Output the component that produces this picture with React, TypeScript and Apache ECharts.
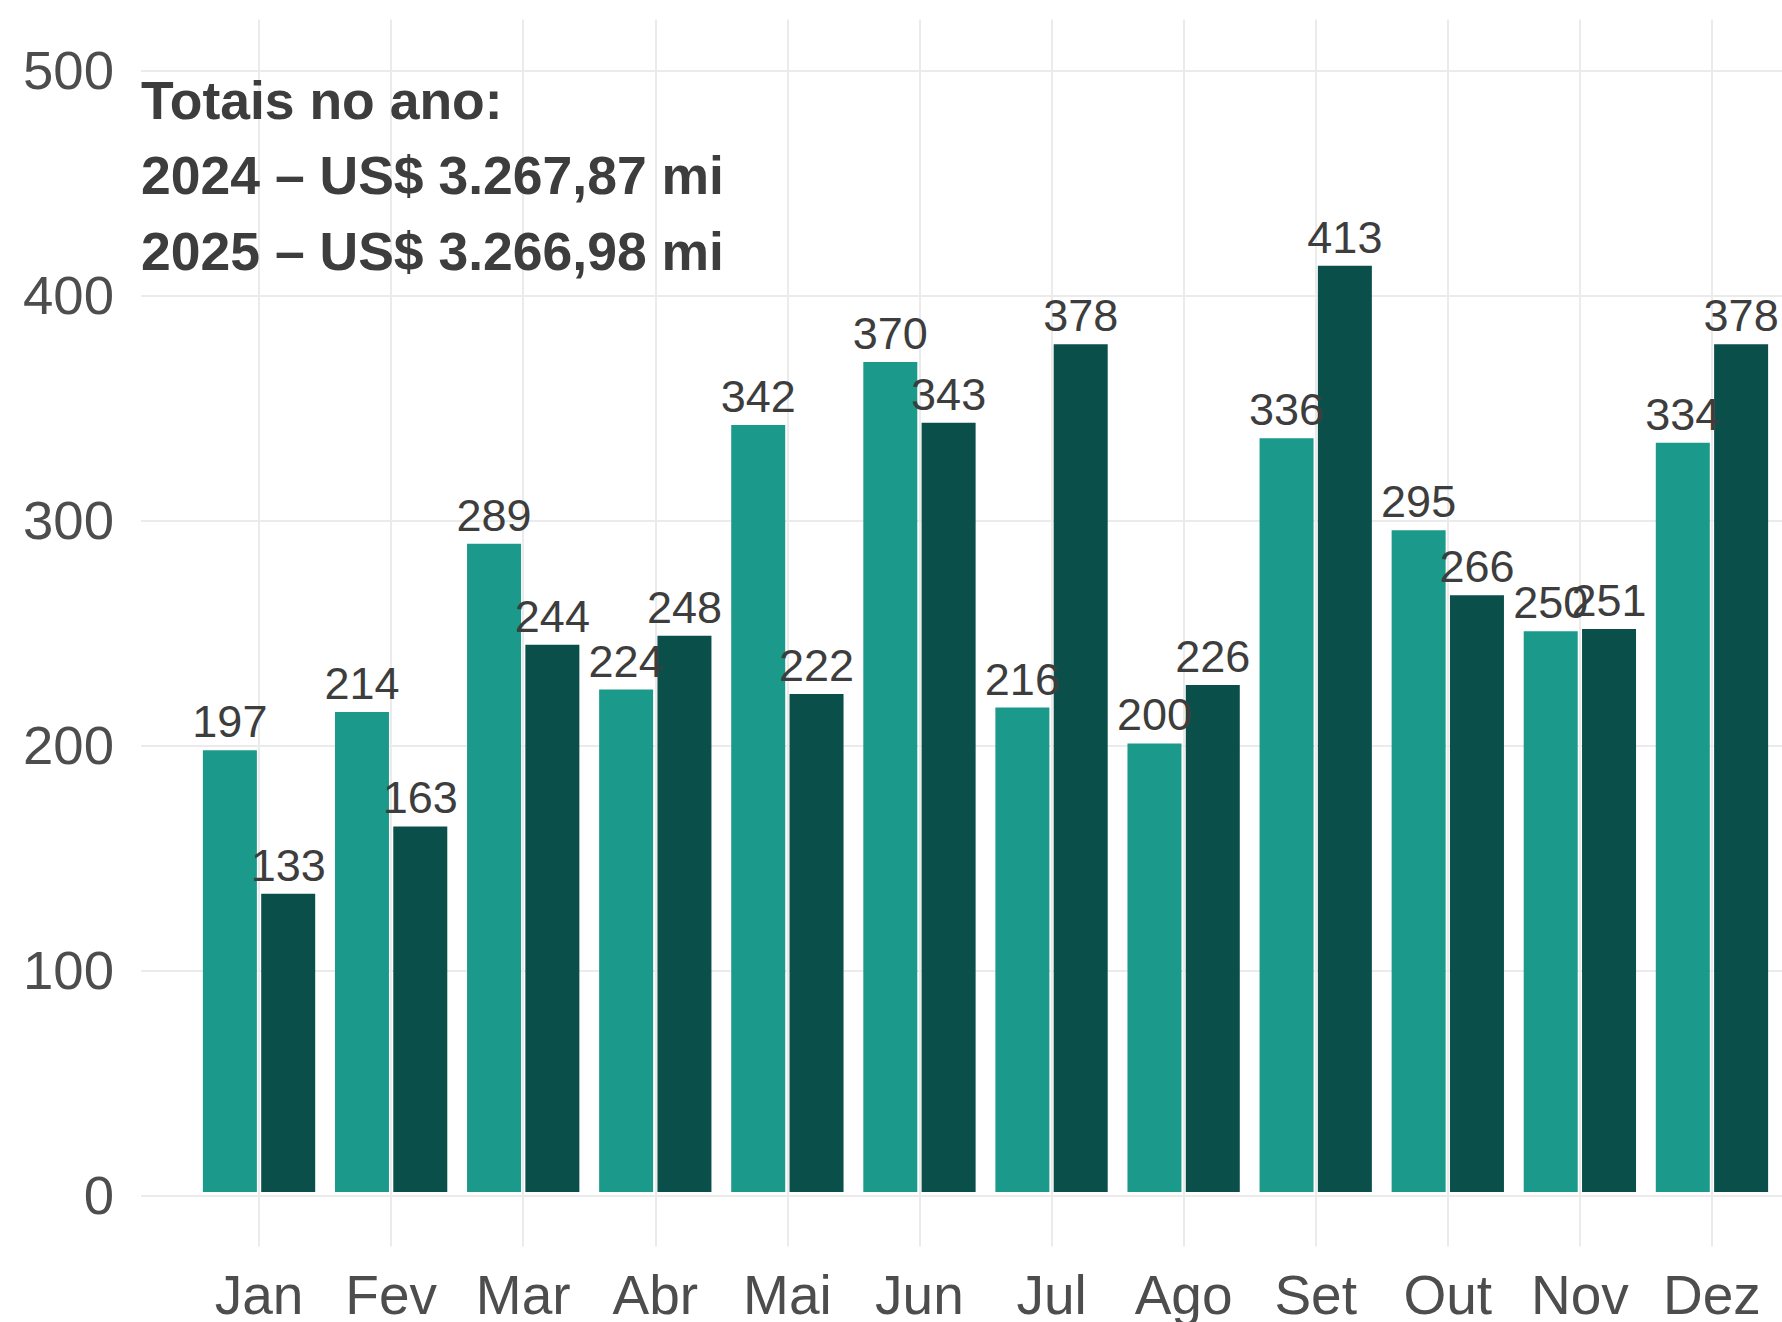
import React, { useEffect, useRef } from "react";
import * as echarts from "echarts";

const months = ["Jan", "Fev", "Mar", "Abr", "Mai", "Jun", "Jul", "Ago", "Set", "Out", "Nov", "Dez"];
const values2024 = [197, 214, 289, 224, 342, 370, 216, 200, 336, 295, 250, 334];
const values2025 = [133, 163, 244, 248, 222, 343, 378, 226, 413, 266, 251, 378];
const annotationLines = ["Totais no ano:", "2024 – US$ 3.267,87 mi", "2025 – US$ 3.266,98 mi"];
const yMin = 0;
const yMax = 500;
const yStep = 100;

const FONT = '"Liberation Sans", Arial, Helvetica, sans-serif';
const C2024 = "#1b9a8b";
const C2025 = "#0b4f4a";
const GRIDC = "#ebebeb";

export default function App() {
  const ref = useRef<HTMLDivElement>(null);
  useEffect(() => {
    if (!ref.current) return;
    const chart = echarts.init(ref.current, undefined, { renderer: "svg" });
    const labelCfg = {
      show: true,
      position: "top" as const,
      distance: 6,
      fontSize: 45,
      color: "#3d3d3d",
      fontFamily: FONT,
      formatter: (p: any) => String(Math.round(p.value)),
    };
    chart.setOption({
      animation: false,
      backgroundColor: "#ffffff",
      textStyle: { fontFamily: FONT },
      grid: [
        { left: 193, right: 4, top: 70.5, bottom: 126.5 },
        { left: 141, right: 0, top: 70.5, bottom: 126.5 },
      ],
      xAxis: [
        {
          type: "category",
          gridIndex: 0,
          data: months,
          position: "bottom",
          axisLine: { show: false, onZero: false },
          axisTick: { show: false },
          splitLine: { show: false },
          axisLabel: { interval: 0, fontSize: 55, color: "#4d4d4d", margin: 75, fontFamily: FONT },
        },
        {
          type: "category",
          gridIndex: 0,
          data: months,
          position: "bottom",
          offset: 54.5,
          axisLine: { show: false, onZero: false },
          axisTick: {
            show: true,
            interval: 0,
            alignWithLabel: true,
            inside: true,
            length: 1227,
            lineStyle: { color: GRIDC, width: 2 },
          },
          axisLabel: { show: false, interval: 0 },
          splitLine: { show: false },
        },
        { type: "value", gridIndex: 1, min: 0, max: 1, show: false },
      ],
      yAxis: [
        { type: "value", gridIndex: 0, min: yMin, max: yMax, show: false, splitLine: { show: false } },
        {
          type: "value",
          gridIndex: 1,
          min: yMin,
          max: yMax,
          interval: yStep,
          axisLine: { show: false },
          axisTick: { show: false },
          axisLabel: { fontSize: 54.5, color: "#4d4d4d", margin: 27, fontFamily: FONT },
          splitLine: { show: true, lineStyle: { color: GRIDC, width: 2 } },
        },
      ],
      series: [
        {
          name: "2024",
          type: "bar",
          xAxisIndex: 0,
          yAxisIndex: 0,
          data: values2024,
          barWidth: 54,
          barGap: "8%",
          itemStyle: { color: C2024 },
          label: labelCfg,
        },
        {
          name: "2025",
          type: "bar",
          xAxisIndex: 0,
          yAxisIndex: 0,
          data: values2025,
          barWidth: 54,
          barGap: "8%",
          itemStyle: { color: C2025 },
          label: labelCfg,
        },
      ],
      graphic: annotationLines.map((t, i) => ({
        type: "text",
        x: 141,
        y: 100 + i * 75.5,
        z: 10,
        style: {
          text: t,
          fontSize: 53.5,
          fontWeight: "bold",
          fontFamily: FONT,
          fill: "#3d3d3d",
          align: "left",
          verticalAlign: "middle",
        },
      })),
    });
    return () => chart.dispose();
  }, []);
  return <div ref={ref} style={{ position: "absolute", left: 0, top: 0, width: 1782, height: 1322 }} />;
}
